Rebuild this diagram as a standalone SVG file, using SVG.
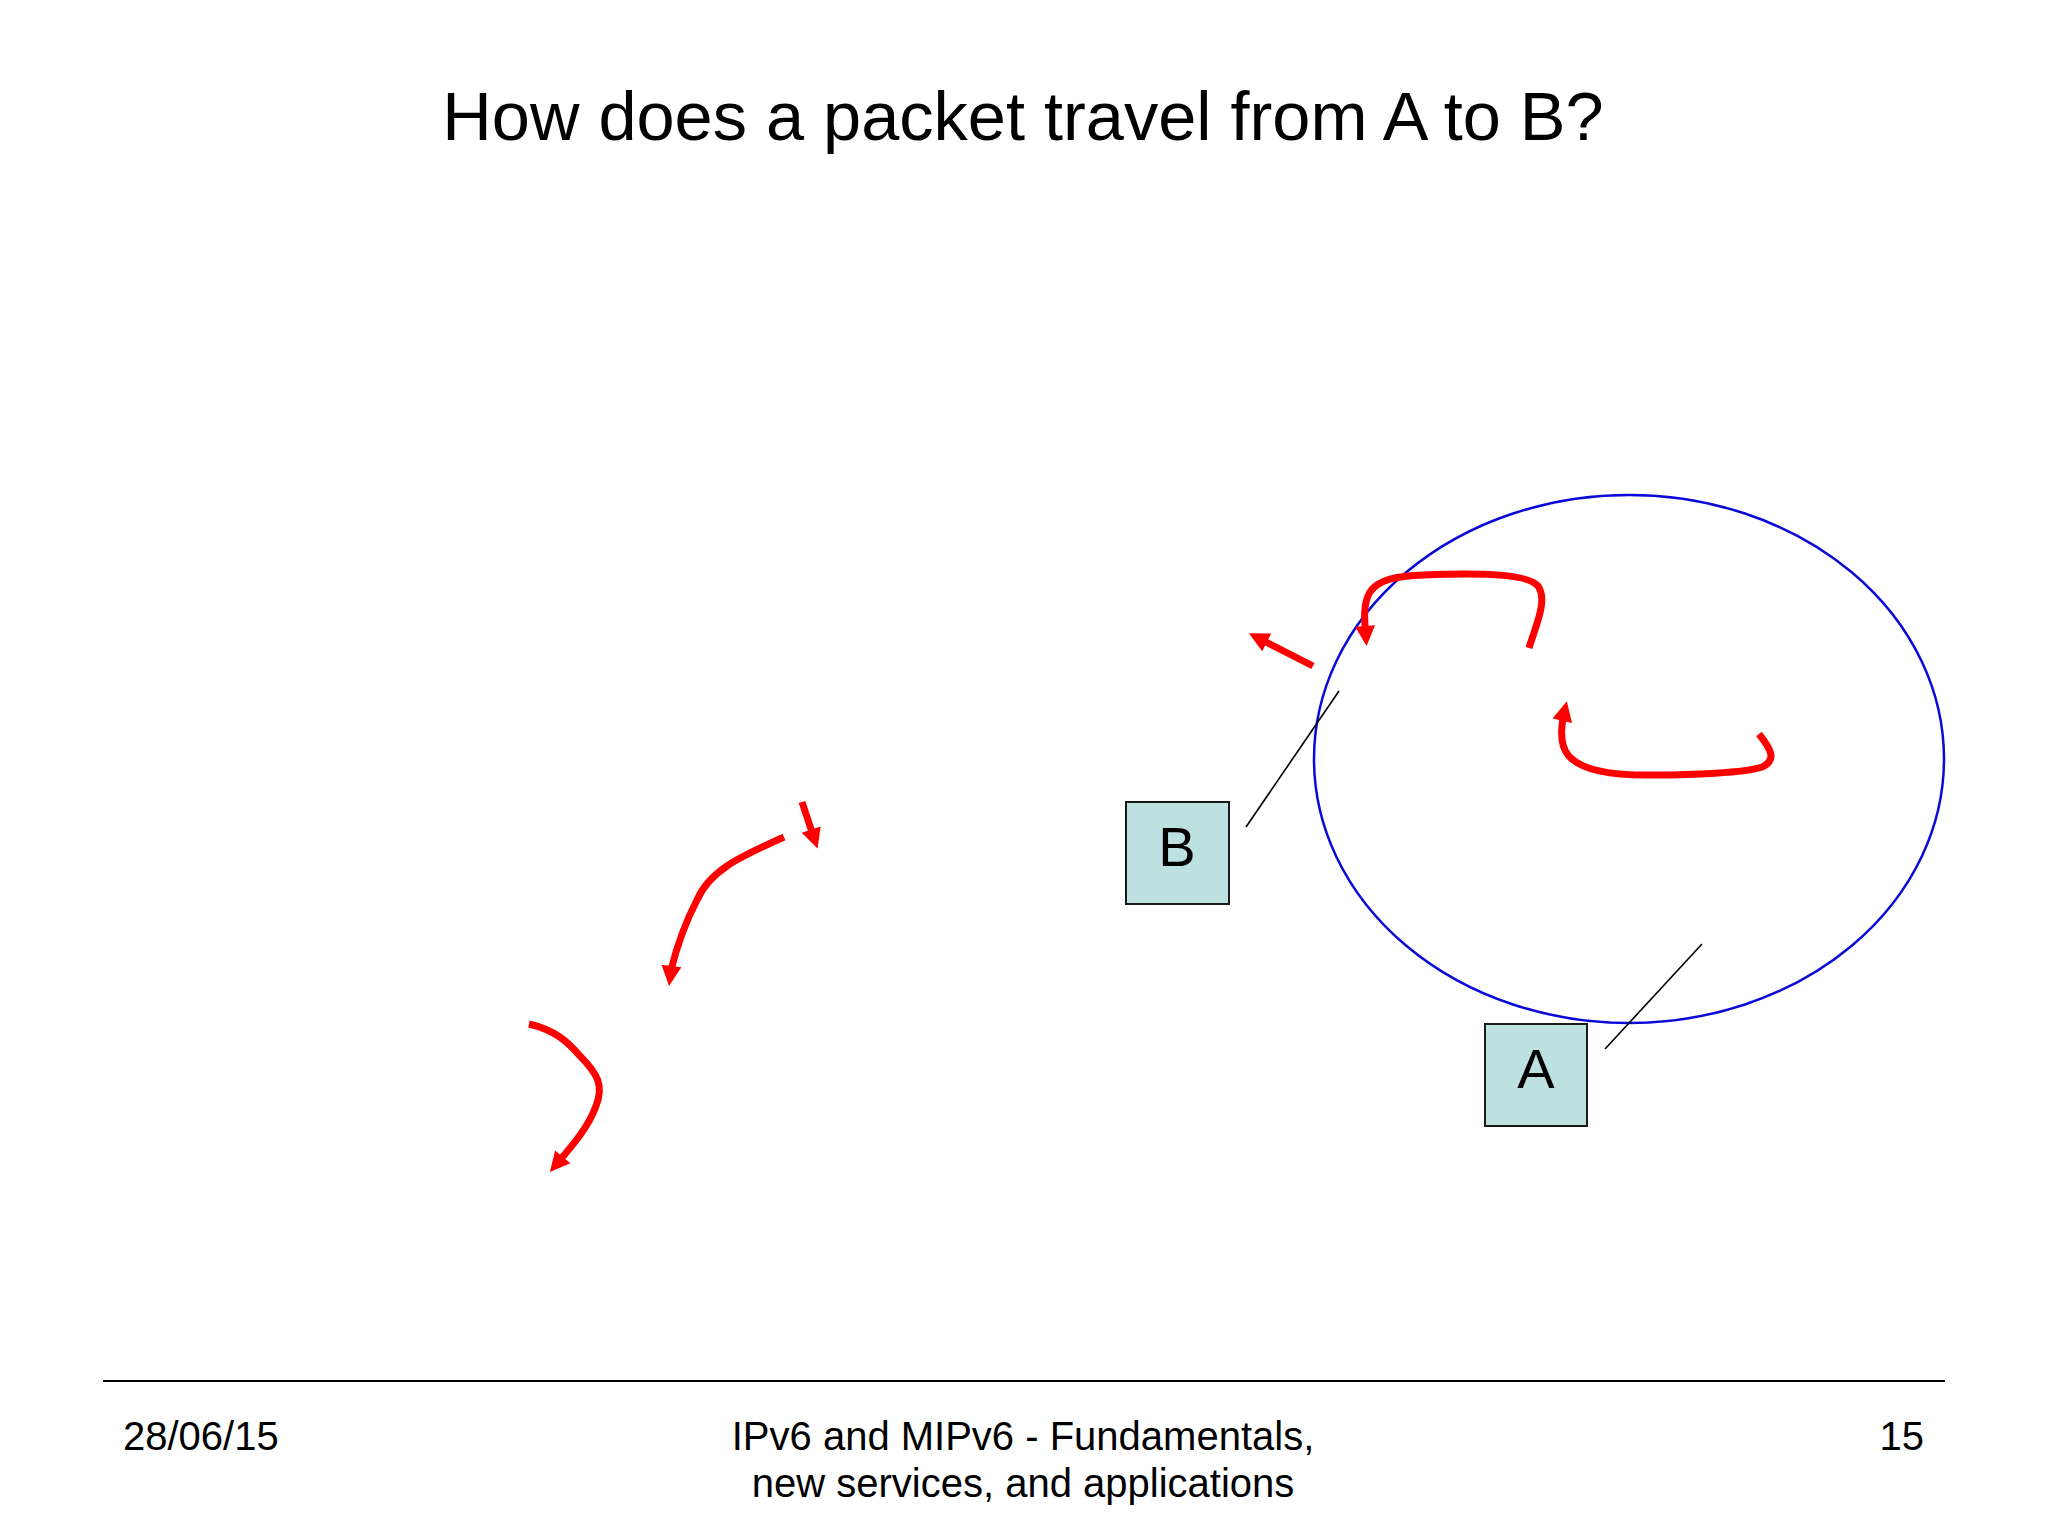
<svg xmlns="http://www.w3.org/2000/svg" width="2048" height="1536" viewBox="0 0 2048 1536">
<style>
.t{font-family:"Liberation Sans",Arial,sans-serif;fill:#000}
.box{fill:#bde0e1;stroke:#1a1a1a;stroke-width:2}
.red{fill:none;stroke:#ff0000;stroke-width:7;stroke-linecap:butt;marker-end:url(#ah)}
.thin{stroke:#000;stroke-width:1.6;fill:none}
</style>
<defs>
<marker id="ah" viewBox="0 0 10 10" refX="6" refY="5" markerUnits="userSpaceOnUse" markerWidth="25" markerHeight="20" orient="auto">
<path d="M0,0 L10,5 L0,10 z" fill="#ff0000"/>
</marker>
</defs>
<rect width="2048" height="1536" fill="#fff"/>
<text class="t" x="1023" y="140" font-size="68.5" text-anchor="middle">How does a packet travel from A to B?</text>
<g id="network">
<ellipse cx="1629" cy="759" rx="315" ry="264" fill="none" stroke="#0a0ad8" stroke-width="2.5"/>
</g>
<g id="nodeB">
<rect class="box" x="1126" y="802" width="103" height="102"/>
<text class="t" x="1177" y="866" font-size="56" text-anchor="middle">B</text>
</g>
<g id="nodeA">
<rect class="box" x="1485" y="1024" width="102" height="102"/>
<text class="t" x="1536" y="1088" font-size="56" text-anchor="middle">A</text>
</g>
<g id="connectors">
<line class="thin" x1="1246" y1="827" x2="1339" y2="691"/>
<line class="thin" x1="1605" y1="1049" x2="1702" y2="944"/>
<path class="red" d="M1529,648 C1536,625 1548,600 1538,586 C1528,573 1470,573 1424,575 C1395,576 1378,580 1370,592 C1362,605 1365,625 1366,638"/>
<path class="red" d="M1759,734 C1770,748 1778,760 1762,767 C1745,773 1690,775 1655,775 C1610,776 1580,770 1568,755 C1558,742 1562,722 1565,709"/>
<path class="red" d="M1313,666 L1256,637"/>
<path class="red" d="M802,802 L815,841"/>
<path class="red" d="M784,837 C740,857 710,870 697,900 C684,925 676,950 671,970 L670,978"/>
<path class="red" d="M529,1024 C555,1030 568,1042 580,1056 C598,1074 604,1086 596,1106 C588,1128 572,1146 555,1166"/>
</g>
<line x1="103" y1="1381" x2="1945" y2="1381" stroke="#000" stroke-width="2"/>
<text class="t" x="123" y="1450" font-size="40">28/06/15</text>
<text class="t" x="1023" y="1450" font-size="40" text-anchor="middle">IPv6 and MIPv6 - Fundamentals,</text>
<text class="t" x="1023" y="1497" font-size="40" text-anchor="middle">new services, and applications</text>
<text class="t" x="1924" y="1450" font-size="40" text-anchor="end">15</text>
</svg>
